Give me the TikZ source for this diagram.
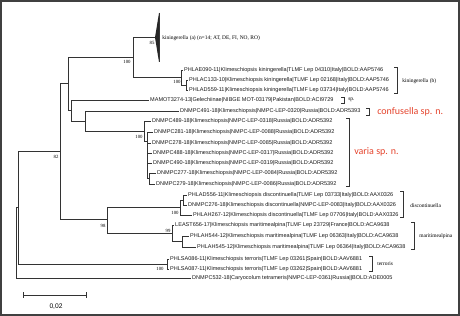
\documentclass[tikz,border=0pt]{standalone}
\usepackage{fontspec}
\setmainfont{Liberation Serif}
\setsansfont{Liberation Sans}
\newfontfamily\newspfont{Carlito}
\definecolor{spred}{RGB}{229,68,45}
\newcommand\cladebracket[3]{\draw[brk] (#1-3,#2) -- (#1,#2) -- (#1,#3) -- (#1-3,#3);}
\begin{document}
\begin{tikzpicture}[x=0.75pt,y=-0.75pt,
  brk/.style={draw=black!80, line width=0.45pt},
  edge/.style={draw=black!80, line width=0.6pt},
  leaf/.style={anchor=west, inner xsep=1.1pt, inner ysep=0pt, font=\sffamily\fontsize{4.15}{5}\selectfont, text height=3pt, text depth=0pt, text=black!90},
  cladelab/.style={anchor=west, inner sep=0pt, font=\rmfamily\fontsize{4.1}{5}\selectfont},
  bs/.style={inner sep=0pt, font=\rmfamily\fontsize{3.6}{4}\selectfont},
  newsp/.style={anchor=west, inner sep=0pt, font=\newspfont\fontsize{7.5}{9}\selectfont, text=spred},
]
\useasboundingbox (0,0) rectangle (460,316);
\fill[white] (0,0) rectangle (460,316);
\draw[line width=1.1pt, black!75] (0.8,0.8) rectangle (459.2,315.2);

% internal nodes
\coordinate (R)  at (16,242);
\coordinate (E)  at (18,207);
\coordinate (D)  at (60,151);
\coordinate (A)  at (68,83.5);
\coordinate (N0) at (133,57);
\coordinate (N1) at (181,77);
\coordinate (N2) at (186,85);
\coordinate (B)  at (71,110);
\coordinate (C)  at (85,121);
\coordinate (V)  at (144.5,131);
\coordinate (V2) at (147.5,141);
\coordinate (V3) at (149.5,178.5);
\coordinate (K)  at (107,219);
\coordinate (G)  at (180,207);
\coordinate (H)  at (183,200);
\coordinate (J)  at (172,233);
\coordinate (I)  at (182,241.5);
\coordinate (T)  at (167,264);
\coordinate (kinA) at (155,37.5);

% collapsed clade
\fill[black!85] (kinA) -- (159,13) -- (159,62) -- cycle;
\draw[edge] (159,13) -- (159,62);
\node[cladelab] (kinAlab) at (162,38) {kiningerella (a) (n=14; AT, DE, FI, NO, RO)};

% leaves
\node[leaf] (l090) at (182.5,70) {PHLAE090-11|Klimeschiopsis kiningerella|TLMF Lep 04310|Italy|BOLD:AAP5746};
\node[leaf] (l133) at (187.5,80) {PHLAC133-10|Klimeschiopsis kiningerella|TLMF Lep 02168|Italy|BOLD:AAP5746};
\node[leaf] (l559) at (187.5,90) {PHLAD559-11|Klimeschiopsis kiningerella|TLMF Lep 03734|Italy|BOLD:AAP5746};
\node[leaf] (lmam) at (148.5,100) {MAMOT3274-13|Gelechiinae|NIBGE MOT-03179|Pakistan|BOLD:ACI9729};
\node[leaf] (l491) at (178.5,111) {DNMPC491-18|Klimeschiopsis|NMPC-LEP-0320|Russia|BOLD:ADR5393};
\node[leaf] (l489) at (150.5,121) {DNMPC489-18|Klimeschiopsis|NMPC-LEP-0318|Russia|BOLD:ADR5392};
\node[leaf] (l281) at (152.5,132) {DNMPC281-18|Klimeschiopsis|NMPC-LEP-0088|Russia|BOLD:ADR5392};
\node[leaf] (l278) at (150.5,143) {DNMPC278-18|Klimeschiopsis|NMPC-LEP-0085|Russia|BOLD:ADR5392};
\node[leaf] (l488) at (151.5,153) {DNMPC488-18|Klimeschiopsis|NMPC-LEP-0317|Russia|BOLD:ADR5392};
\node[leaf] (l490) at (151.5,163) {DNMPC490-18|Klimeschiopsis|NMPC-LEP-0319|Russia|BOLD:ADR5392};
\node[leaf] (l277) at (155.5,173) {DNMPC277-18|Klimeschiopsis|NMPC-LEP-0084|Russia|BOLD:ADR5392};
\node[leaf] (l279) at (154.5,184) {DNMPC279-18|Klimeschiopsis|NMPC-LEP-0086|Russia|BOLD:ADR5392};
\node[leaf] (l556) at (186.5,195) {PHLAD556-11|Klimeschiopsis discontinuella|TLMF Lep 03733|Italy|BOLD:AAX0326};
\node[leaf] (l276) at (186.5,205) {DNMPC276-18|Klimeschiopsis discontinuella|NMPC-LEP-0083|Italy|BOLD:AAX0326};
\node[leaf] (l267) at (191.5,215) {PHLAH267-12|Klimeschiopsis discontinuella|TLMF Lep 07706|Italy|BOLD:AAX0326};
\node[leaf] (l656) at (173.5,225) {LEAST656-17|Klimeschiopsis maritimealpina|TLMF Lep 23729|France|BOLD:ACA9638};
\node[leaf] (l544) at (188.5,236) {PHLAH544-12|Klimeschiopsis maritimealpina|TLMF Lep 06363|Italy|BOLD:ACA9638};
\node[leaf] (l545) at (195.5,247) {PHLAH545-12|Klimeschiopsis maritimealpina|TLMF Lep 06364|Italy|BOLD:ACA9638};
\node[leaf] (l086) at (168.5,259) {PHLSA086-11|Klimeschiopsis terroris|TLMF Lep 03261|Spain|BOLD:AAV6881};
\node[leaf] (l087) at (168.5,269) {PHLSA087-11|Klimeschiopsis terroris|TLMF Lep 03262|Spain|BOLD:AAV6881};
\node[leaf] (l532) at (190.5,278) {DNMPC532-18|Caryocolum tetrameris|NMPC-LEP-0361|Russia||BOLD:ADE0005};

% edges
\draw[edge] (R) |- (E);
\draw[edge] (R) |- (l532.west);
\draw[edge] (E) |- (D);
\draw[edge] (E) |- (T);
\draw[edge] (D) |- (A);
\draw[edge] (D) |- (K);
\draw[edge] (A) |- (N0);
\draw[edge] (A) |- (B);
\draw[edge] (N0) |- (kinA);
\draw[edge] (N0) |- (N1);
\draw[edge] (N1) |- (l090.west);
\draw[edge] (N1) |- (N2);
\draw[edge] (N2) |- (l133.west);
\draw[edge] (N2) |- (l559.west);
\draw[edge] (B) |- (lmam.west);
\draw[edge] (B) |- (C);
\draw[edge] (C) |- (l491.west);
\draw[edge] (C) |- (V);
\draw[edge] (V) |- (l489.west);
\draw[edge] (V) |- (V2);
\draw[edge] (V2) |- (l281.west);
\draw[edge] (V2) |- (l278.west);
\draw[edge] (V2) |- (l488.west);
\draw[edge] (V2) |- (l490.west);
\draw[edge] (V2) |- (V3);
\draw[edge] (V3) |- (l277.west);
\draw[edge] (V3) |- (l279.west);
\draw[edge] (K) |- (G);
\draw[edge] (K) |- (J);
\draw[edge] (G) |- (H);
\draw[edge] (G) |- (l267.west);
\draw[edge] (H) |- (l556.west);
\draw[edge] (H) |- (l276.west);
\draw[edge] (J) |- (l656.west);
\draw[edge] (J) |- (I);
\draw[edge] (I) |- (l544.west);
\draw[edge] (I) |- (l545.west);
\draw[edge] (T) |- (l086.west);
\draw[edge] (T) |- (l087.west);

% bootstrap values
\node[bs] (b85)  at (152,43)  {85};
\node[bs] (b100a) at (127,62) {100};
\node[bs] (b100b) at (177,82) {100};
\node[bs] (b82)  at (56,157)  {82};
\node[bs] (b100c) at (139,137) {100};
\node[bs] (b100d) at (175,213) {100};
\node[bs] (b98)  at (103,226) {98};
\node[bs] (b99)  at (168,231) {99};
\node[bs] (b100e) at (160,269) {100};

% brackets and clade labels
\cladebracket{397}{67}{93}
\node[cladelab] (kinBlab) at (402,81) {kiningerella (b)};
\cladebracket{344}{97}{103}
\node[cladelab] (splab) at (348,100) {sp.};
\cladebracket{369}{108}{115}
\node[newsp] (confl) at (377,112) {confusella sp. n.};
\cladebracket{349}{118}{186}
\node[newsp] (varl) at (354,152) {varia sp. n.};
\cladebracket{403}{191}{217}
\node[cladelab] (discl) at (410,206) {discontinuella};
\cladebracket{414}{222}{249}
\node[cladelab] (maril) at (419,236) {maritimealpina};
\cladebracket{372}{256}{271}
\node[cladelab] (terrl) at (377,264) {terroris};

% scale bar
\coordinate (sb1) at (23,295);
\coordinate (sb2) at (86,295);
\draw[edge] (sb1) -- (sb2);
\draw[edge] ([yshift=2.2pt]sb1) -- ([yshift=-2.2pt]sb1);
\draw[edge] ([yshift=2.2pt]sb2) -- ([yshift=-2.2pt]sb2);
\node[font=\sffamily\fontsize{5}{6}\selectfont, inner sep=0pt] (sblab) at (56,307) {0,02};
\end{tikzpicture}
\end{document}
